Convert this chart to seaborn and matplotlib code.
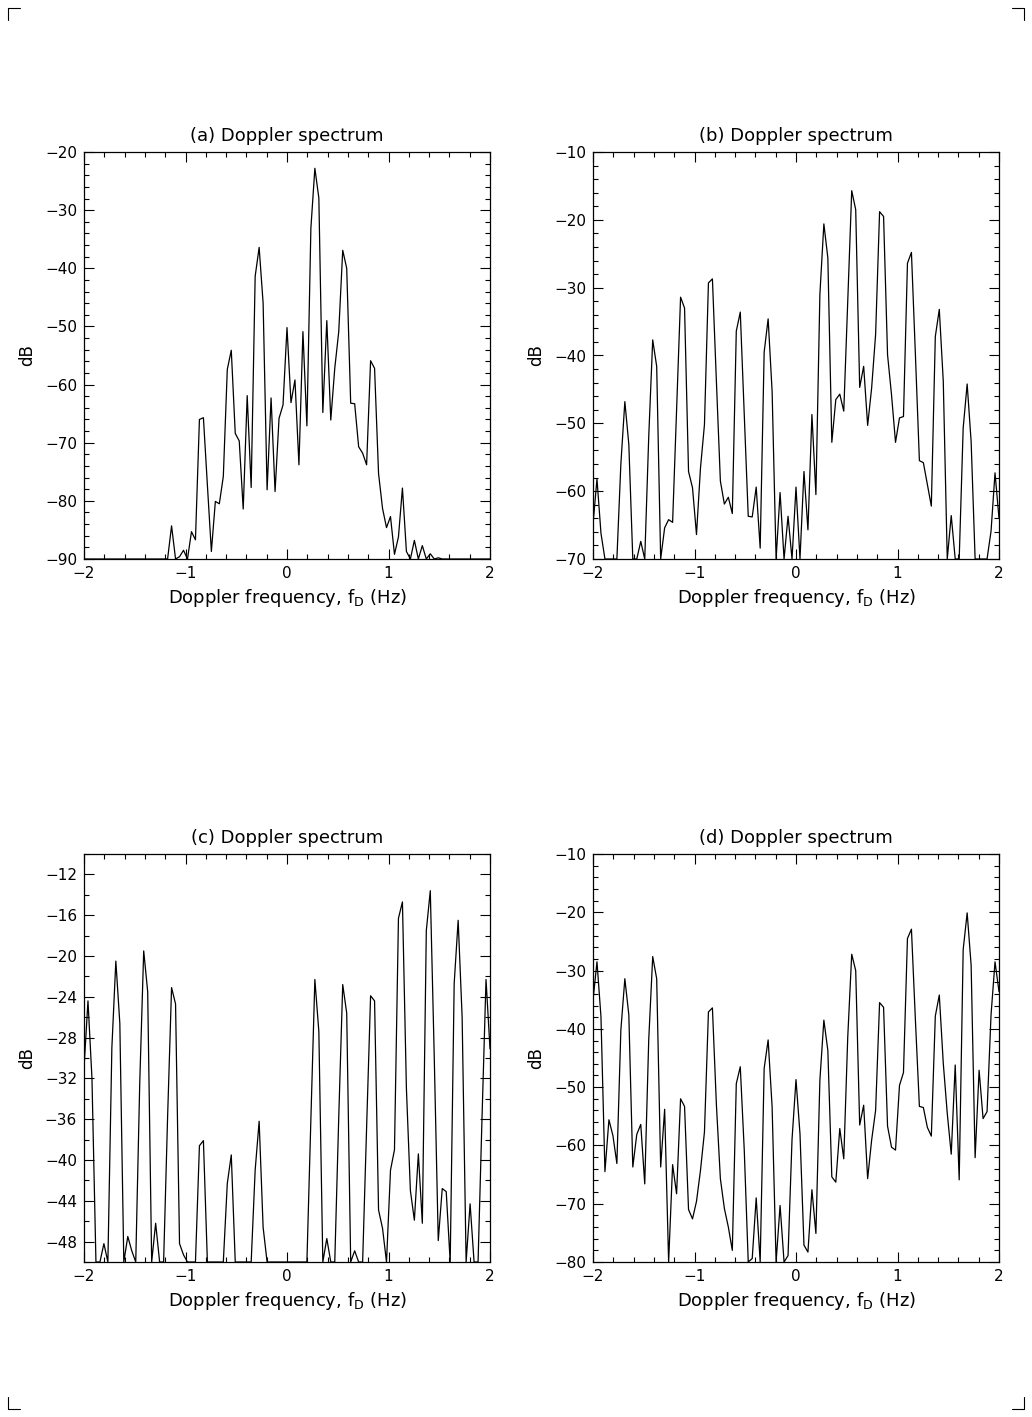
import numpy as np
import matplotlib
matplotlib.use("Agg")
import matplotlib.pyplot as plt
from matplotlib.ticker import MultipleLocator
from matplotlib.lines import Line2D
import seaborn as sns

# Doppler frequency grid (Hz), 103 samples from -2 to 2
freq = np.linspace(-2.0, 2.0, 103)

spec_a = [
    -90, -90, -90, -90, -90, -90, -90, -90, -90, -90,
    -90, -90, -90, -90, -90, -90, -90, -90, -90, -90,
    -90, -90, -84.3, -90, -89.6, -88.5, -90, -85.3, -86.7, -66.0,
    -65.7, -77.3, -88.7, -80.1, -80.5, -75.8, -57.4, -54.1, -68.4, -69.7,
    -81.4, -61.9, -77.7, -41.4, -36.4, -46.0, -78.1, -62.3, -78.4, -65.8,
    -63.5, -50.2, -63.1, -59.2, -73.8, -50.9, -67.1, -33.1, -22.8, -27.9,
    -64.8, -49.0, -66.1, -57.2, -50.9, -36.9, -40.0, -63.2, -63.3, -70.7,
    -71.8, -73.8, -55.9, -57.2, -75.3, -81.3, -84.6, -82.7, -89.2, -86.2,
    -77.8, -88.7, -90, -86.8, -90, -87.7, -90, -89.1, -90, -89.8,
    -90, -90, -90, -90, -90, -90, -90, -90, -90, -90,
    -90, -90, -90]

spec_b = [
    -64.9, -58.2, -66.2, -70, -70, -70, -70, -56, -46.8, -53.1,
    -70, -70, -67.4, -70, -52, -37.7, -41.6, -70, -65.4, -64.2,
    -64.6, -48, -31.4, -33.0, -57.1, -59.5, -66.4, -56.6, -50.2, -29.3,
    -28.7, -43.8, -58.5, -61.9, -60.9, -63.3, -36.4, -33.6, -48.7, -63.7,
    -63.8, -59.4, -68.4, -39.5, -34.6, -45.3, -70, -60.2, -70, -63.7,
    -70, -59.4, -70, -57.1, -65.7, -48.7, -60.5, -31.0, -20.6, -25.6,
    -52.8, -46.5, -45.7, -48.2, -32, -15.7, -18.5, -44.7, -41.6, -50.3,
    -44.8, -36.9, -18.8, -19.5, -39.9, -45.8, -52.8, -49.2, -49.0, -26.4,
    -24.8, -39.9, -55.5, -55.8, -59.0, -62.2, -37.2, -33.2, -43.8, -70,
    -63.6, -70, -70, -50.7, -44.2, -52.7, -70, -70, -70, -70,
    -65.9, -57.3, -64.0]

spec_c = [
    -31.0, -24.4, -32, -50, -50, -48.2, -50, -29, -20.5, -26.6,
    -50, -47.5, -48.9, -50, -32.5, -19.5, -23.5, -50, -46.2, -50,
    -50, -35.8, -23.1, -24.7, -48.2, -49.3, -50, -50, -50, -38.6,
    -38.1, -50, -50, -50, -50, -50, -42.3, -39.5, -50, -50,
    -50, -50, -50, -41.0, -36.2, -46.6, -50, -50, -50, -50,
    -50, -50, -50, -50, -50, -50, -50, -36, -22.3, -27.4,
    -50, -47.7, -50, -50, -35.8, -22.8, -25.6, -50, -48.9, -50,
    -50, -36.8, -23.9, -24.4, -44.9, -46.7, -50, -41.0, -39.0, -16.3,
    -14.7, -33, -43.0, -45.9, -39.4, -46.2, -17.5, -13.6, -30, -47.9,
    -42.8, -43.1, -50, -22.7, -16.5, -26, -50, -44.3, -50, -50,
    -35.8, -22.3, -29.1]

spec_d = [
    -35.1, -28.5, -37.9, -64.5, -55.6, -58.3, -63.1, -40.2, -31.4, -37.6,
    -63.7, -58.1, -56.4, -66.6, -41.9, -27.6, -31.4, -63.7, -53.8, -80,
    -63.3, -68.3, -52.0, -53.3, -71.0, -72.6, -69.6, -64.3, -57.7, -37.1,
    -36.4, -53, -65.7, -70.8, -74.0, -78.0, -49.4, -46.5, -60.8, -80,
    -79.4, -69.0, -80, -46.8, -41.9, -53.4, -80, -70.3, -80, -78.9,
    -59, -48.7, -58, -77.1, -78.3, -67.6, -75.1, -48.8, -38.5, -43.7,
    -65.4, -66.3, -57.1, -62.3, -41.4, -27.2, -30.0, -56.5, -53.1, -65.7,
    -59.1, -54.0, -35.5, -36.3, -56.7, -60.3, -60.8, -49.7, -47.5, -24.5,
    -22.9, -38.5, -53.3, -53.5, -56.9, -58.4, -37.8, -34.2, -45.9, -54.5,
    -61.5, -46.2, -65.9, -26.4, -20.1, -29.1, -62.1, -47.1, -55.4, -54.2,
    -37.6, -28.5, -33.6]

titles = ["(a) Doppler spectrum", "(b) Doppler spectrum",
          "(c) Doppler spectrum", "(d) Doppler spectrum"]
spectra = [spec_a, spec_b, spec_c, spec_d]
ylims = [(-90, -20), (-70, -10), (-50, -10), (-80, -10)]
ymajor = [10, 10, 4, 10]

sns.set_style("white")
plt.rcParams['font.family'] = ['DejaVu Sans']
plt.rcParams['text.color'] = 'black'
plt.rcParams['axes.labelcolor'] = 'black'
plt.rcParams['xtick.color'] = 'black'
plt.rcParams['ytick.color'] = 'black'

W, H = 1032, 1417
fig = plt.figure(figsize=(W / 100, H / 100), dpi=100)

# axes boxes in pixels: left, top, right, bottom
boxes = [(84, 152, 490, 559), (593, 152, 999, 559),
         (84, 854, 490, 1262), (593, 854, 999, 1262)]

for box, title, spec, ylim, ymaj in zip(boxes, titles, spectra, ylims, ymajor):
    l, t, r, b = box
    ax = fig.add_axes([l / W, 1 - b / H, (r - l) / W, (b - t) / H])
    sns.lineplot(x=freq, y=spec, ax=ax, color="black", linewidth=0.9)
    ax.set_xlim(-2, 2)
    ax.set_ylim(*ylim)
    ax.xaxis.set_major_locator(MultipleLocator(1))
    ax.xaxis.set_minor_locator(MultipleLocator(0.2))
    ax.yaxis.set_major_locator(MultipleLocator(ymaj))
    ax.yaxis.set_minor_locator(MultipleLocator(2))
    ax.tick_params(which="both", direction="in", top=True, right=True,
                   bottom=True, left=True, color="black", width=0.8)
    ax.tick_params(which="major", length=7, labelsize=11, pad=5)
    ax.tick_params(which="minor", length=3.5)
    for s in ax.spines.values():
        s.set_color("black")
        s.set_linewidth(0.9)
    ax.set_title(title, fontsize=13, pad=8, color="black")
    ax.set_xlabel("Doppler frequency, $\\mathregular{f_D}$ (Hz)", fontsize=13, labelpad=4)
    ax.set_ylabel("dB", fontsize=12, labelpad=6)

# crop marks at the page corners
def mark(xs, ys):
    fig.add_artist(Line2D([x / W for x in xs], [1 - y / H for y in ys],
                          transform=fig.transFigure, color="black", linewidth=0.8))

mark([8, 8, 20], [20, 8, 8])
mark([1012, 1024, 1024], [8, 8, 20])
mark([8, 8, 20], [1397, 1409, 1409])
mark([1012, 1024, 1024], [1409, 1409, 1397])

fig.savefig("out.png", dpi=100, facecolor="white")
